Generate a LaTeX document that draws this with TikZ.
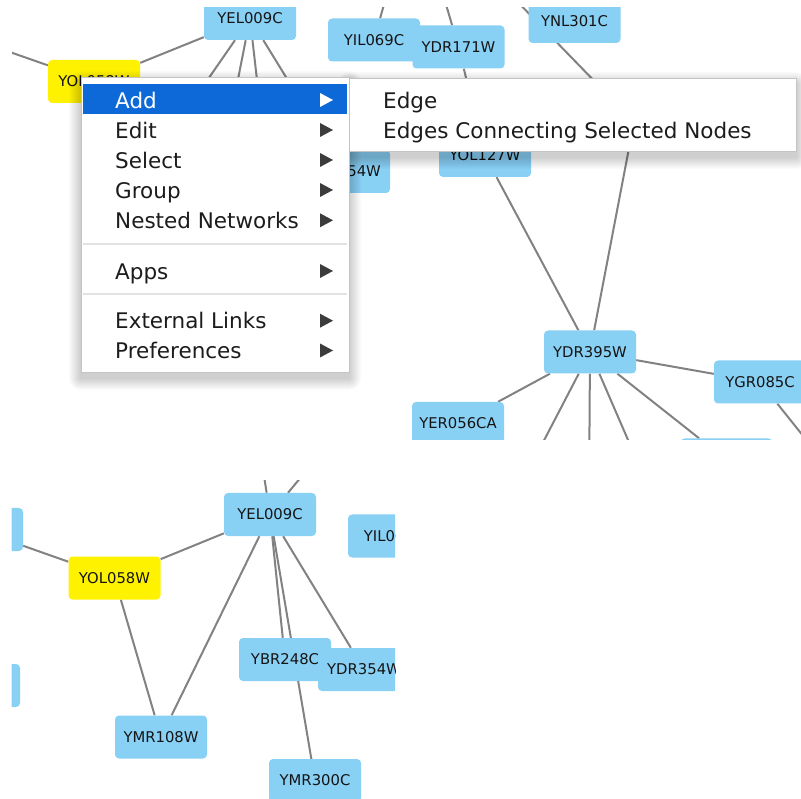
\documentclass[tikz,border=0pt]{standalone}
\usepackage{fontspec}
\setmainfont{DejaVu Sans}
\usetikzlibrary{backgrounds}
\definecolor{nodeblue}{HTML}{89D0F5}
\definecolor{edgegray}{HTML}{828282}
\definecolor{labelcol}{HTML}{141414}
\definecolor{menutext}{HTML}{1C1C1C}
\definecolor{menuhl}{HTML}{0E69D8}
\definecolor{sepgray}{HTML}{E2E2E2}
\definecolor{arrowgray}{HTML}{3C3C3C}
\definecolor{menuborder}{HTML}{C4C4C4}
\tikzset{
  gene/.style={rectangle, rounded corners=4pt, fill=nodeblue, minimum width=92pt,
    minimum height=43pt, inner sep=0pt, text=labelcol, font=\fontsize{14.8}{17}\selectfont},
  selgene/.style={gene, fill=yellow},
  link/.style={draw=edgegray, line width=2pt},
  menuitem/.style={anchor=base west, inner sep=0pt, text=menutext, font=\fontsize{21.5}{26}\selectfont},
  menubox/.style={fill=white, draw=menuborder, line width=0.5pt},
}
\newcommand\menuarrow[2]{\fill[#2] (320,{#1-7}) -- (320,{#1+7}) -- (333,#1) -- cycle;}
\newcommand\menushadow[4]{%
  \foreach \i in {1,...,12} {\fill[black,opacity=0.016,rounded corners=\i pt] ({#1-\i},{#2-\i+6}) rectangle ({#3+\i},{#4+\i+6});}}
\begin{document}
\begin{tikzpicture}[x=1pt,y=-1pt]
\useasboundingbox (0,0) rectangle (801,799);

% ================= top view =================
\coordinate (tL1) at (-43,33.5);
\coordinate (tA) at (159,150);
\coordinate (tB) at (224,150);
\coordinate (tC) at (265,150);
\coordinate (tP3) at (396.5,-40);
\coordinate (tP4) at (430,-50);
\coordinate (tP5) at (477,-40);
\coordinate (tHidN) at (634,122);
\coordinate (tP7) at (840,482);
\coordinate (tP8) at (513,500);
\coordinate (tP9) at (589,500);
\coordinate (tP10) at (654,500);
\begin{scope}
\clip (12,8) rectangle (801,440);
\node[gene] (tYEL009C) at (250,18.5) {YEL009C};
\node[gene] (tYIL069C) at (374,40) {YIL069C};
\node[gene] (tYDR171W) at (458.5,47) {YDR171W};
\node[gene] (tYNL301C) at (574.5,21.5) {YNL301C};
\node[selgene] (tYOL058W) at (94,81.5) {YOL058W};
\node[gene] (tYDR354W) at (344,171.5) {YDR354W};
\node[gene] (tYOL127W) at (485,155.5) {YOL127W};
\node[gene] (tYDR395W) at (590,352) {YDR395W};
\node[gene] (tYGR085C) at (760,382) {YGR085C};
\node[gene] (tYER056CA) at (458,423.5) {YER056CA};
\node[gene] (tHid) at (726.5,460) {};

% context menus
\menushadow{81}{77}{349}{372}
\menushadow{349}{78}{796}{151}
\path[menubox] (81,77) rectangle (349,372);
\path[menubox] (349,78) rectangle (796,151);
\fill[menuhl] (83,84) rectangle (347,114);
\draw[sepgray, line width=1.5pt] (83,244) -- (347,244);
\draw[sepgray, line width=1.5pt] (83,294) -- (347,294);
\node[menuitem, text=white] (mAdd) at (115,108.3) {Add};
\node[menuitem] (mEdit) at (115,138.3) {Edit};
\node[menuitem] (mSelect) at (115,168.3) {Select};
\node[menuitem] (mGroup) at (115,198.3) {Group};
\node[menuitem] (mNested) at (115,228.6) {Nested Networks};
\node[menuitem] (mApps) at (115,279.3) {Apps};
\node[menuitem] (mExt) at (115,329) {External Links};
\node[menuitem] (mPref) at (115,358.8) {Preferences};
\menuarrow{100}{white}
\menuarrow{130}{arrowgray}
\menuarrow{160}{arrowgray}
\menuarrow{190}{arrowgray}
\menuarrow{220.3}{arrowgray}
\menuarrow{271}{arrowgray}
\menuarrow{320.7}{arrowgray}
\menuarrow{350.5}{arrowgray}
\node[menuitem] (sEdge) at (383,108.3) {Edge};
\node[menuitem] (sEdges) at (383,138.3) {Edges Connecting Selected Nodes};
\end{scope}

% ================= bottom view =================
\coordinate (bP1) at (260,450);
\coordinate (bP2) at (323.5,450);
\begin{scope}
\clip (11.5,481) rectangle (395,799);
\node[gene] (bL1) at (-23,529.5) {};
\node[gene] (bL2) at (-26,685.5) {};
\node[selgene] (bYOL058W) at (114.5,578) {YOL058W};
\node[gene] (bYEL009C) at (270,514.5) {YEL009C};
\node[gene] (bYIL069C) at (394,536) {YIL069C};
\node[gene] (bYMR108W) at (161,737) {YMR108W};
\node[gene] (bYBR248C) at (285,659.5) {YBR248C};
\node[gene] (bYDR354W) at (364,669.5) {YDR354W};
\node[gene] (bYMR300C) at (315,780.5) {YMR300C};
\end{scope}

% ================= edges (behind nodes) =================
\begin{pgfonlayer}{background}
\fill[white] (0,0) rectangle (801,799);
\begin{scope}
\clip (12,8) rectangle (801,440);
\draw[link] (tL1) -- (tYOL058W);
\draw[link] (tYOL058W) -- (tYEL009C);
\draw[link] (tYEL009C) -- (tA);
\draw[link] (tYEL009C) -- (tB);
\draw[link] (tYEL009C) -- (tC);
\draw[link] (tYEL009C) -- (tYDR354W);
\draw[link] (tP3) -- (tYIL069C);
\draw[link] (tP4) -- (tYDR171W);
\draw[link] (tYDR171W) -- (tYOL127W);
\draw[link] (tP5) -- (tHidN);
\draw[link] (tHidN) -- (tYDR395W);
\draw[link] (tYOL127W) -- (tYDR395W);
\draw[link] (tYDR395W) -- (tYGR085C);
\draw[link] (tYGR085C) -- (tP7);
\draw[link] (tYDR395W) -- (tYER056CA);
\draw[link] (tYDR395W) -- (tP8);
\draw[link] (tYDR395W) -- (tP9);
\draw[link] (tYDR395W) -- (tP10);
\draw[link] (tYDR395W) -- (tHid);
\end{scope}
\begin{scope}
\clip (11.5,481) rectangle (395,799);
\draw[link] (bL1) -- (bYOL058W);
\draw[link] (bYOL058W) -- (bYEL009C);
\draw[link] (bYOL058W) -- (bYMR108W);
\draw[link] (bYEL009C) -- (bYMR108W);
\draw[link] (bYEL009C) -- (bYBR248C);
\draw[link] (bYEL009C.center) -- (bYMR300C.center);
\draw[link] (bYEL009C) -- (bYDR354W);
\draw[link] (bYEL009C) -- (bP1);
\draw[link] (bYEL009C) -- (bP2);
\end{scope}
\end{pgfonlayer}
\end{tikzpicture}
\end{document}
